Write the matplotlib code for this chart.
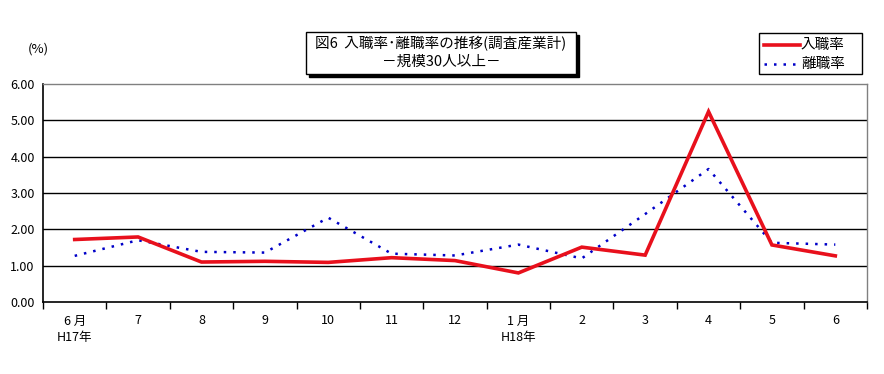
import matplotlib
matplotlib.use("Agg")
import matplotlib.pyplot as plt
from matplotlib.patches import Rectangle
from matplotlib.lines import Line2D

plt.rcParams['font.family'] = ['Noto Sans CJK JP', 'DejaVu Sans']

# data
months = ["6 月\nH17年", "7", "8", "9", "10", "11", "12",
          "1 月\nH18年", "2", "3", "4", "5", "6"]
entry_rate = [1.72, 1.79, 1.10, 1.12, 1.09, 1.22, 1.14,
              0.80, 1.51, 1.29, 5.24, 1.57, 1.27]
sep_rate = [1.27, 1.70, 1.38, 1.36, 2.32, 1.33, 1.28,
            1.58, 1.20, 2.42, 3.66, 1.63, 1.58]
y_ticks = [0, 1, 2, 3, 4, 5, 6]

W, H = 884, 374
fig = plt.figure(figsize=(W / 100, H / 100), dpi=100)

# plot area in pixels
left, right, top, bottom = 43, 867, 84, 302
ax = fig.add_axes([left / W, 1 - bottom / H, (right - left) / W, (bottom - top) / H])

red = "#E8101C"
blue = "#0000C8"
dots = (0, (1.0, 2.8))

x = list(range(len(months)))
ax.plot(x, entry_rate, color=red, lw=2.6, solid_joinstyle="miter", zorder=4)
ax.plot(x, sep_rate, color=blue, lw=1.8, linestyle=dots, zorder=3)

ax.set_xlim(-0.5, len(months) - 0.5)
ax.set_ylim(0, 6)
ax.set_yticks(y_ticks)
ax.set_yticklabels(["{:.2f}".format(v) for v in y_ticks])
for v in y_ticks[1:-1]:
    ax.axhline(v, color="black", lw=1, zorder=1)

ax.set_xticks(x)
ax.set_xticklabels(months, linespacing=1.3)
ax.set_xticks([i + 0.5 for i in range(-1, len(months))], minor=True)
ax.tick_params(axis="x", which="major", length=0, pad=9, labelsize=9)
ax.tick_params(axis="x", which="minor", length=5, width=1, direction="out")
ax.tick_params(axis="y", length=0, pad=6, labelsize=9)

for s in ["left", "bottom"]:
    ax.spines[s].set_color("black")
    ax.spines[s].set_linewidth(1.2)
for s in ["top", "right"]:
    ax.spines[s].set_color("#808080")
    ax.spines[s].set_linewidth(1)

fig.text(38 / W, 1 - 49 / H, "(%)", ha="center", va="center", fontsize=9.5)

# title box with shadow
def box(x0, y0, x1, y1, shadow=0):
    if shadow:
        fig.patches.append(Rectangle((x0 / W + shadow / W, 1 - y1 / H - shadow / H),
                                     (x1 - x0) / W, (y1 - y0) / H,
                                     transform=fig.transFigure, facecolor="black",
                                     edgecolor="black", zorder=1))
    fig.patches.append(Rectangle((x0 / W, 1 - y1 / H), (x1 - x0) / W, (y1 - y0) / H,
                                 transform=fig.transFigure, facecolor="white",
                                 edgecolor="black", lw=1, zorder=2))

box(306, 32, 576, 74, shadow=3)
fig.text(441 / W, 1 - 44 / H, "図6  入職率･離職率の推移(調査産業計)",
         ha="center", va="center", fontsize=10.5, zorder=3)
fig.text(441 / W, 1 - 62 / H, "－規模30人以上－",
         ha="center", va="center", fontsize=10.5, zorder=3)

# legend box
box(759, 33, 862, 74)
fig.lines.append(Line2D([764 / W, 800 / W], [1 - 45 / H, 1 - 45 / H], transform=fig.transFigure,
                        color=red, lw=2.6, zorder=5))
fig.lines.append(Line2D([764 / W, 800 / W], [1 - 64 / H, 1 - 64 / H], transform=fig.transFigure,
                        color=blue, lw=1.8, linestyle=dots, zorder=5))
fig.text(801 / W, 1 - 45 / H, "入職率", ha="left", va="center", fontsize=10.5, zorder=5)
fig.text(801 / W, 1 - 64 / H, "離職率", ha="left", va="center", fontsize=10.5, zorder=5)

fig.savefig("out.png", dpi=100)
